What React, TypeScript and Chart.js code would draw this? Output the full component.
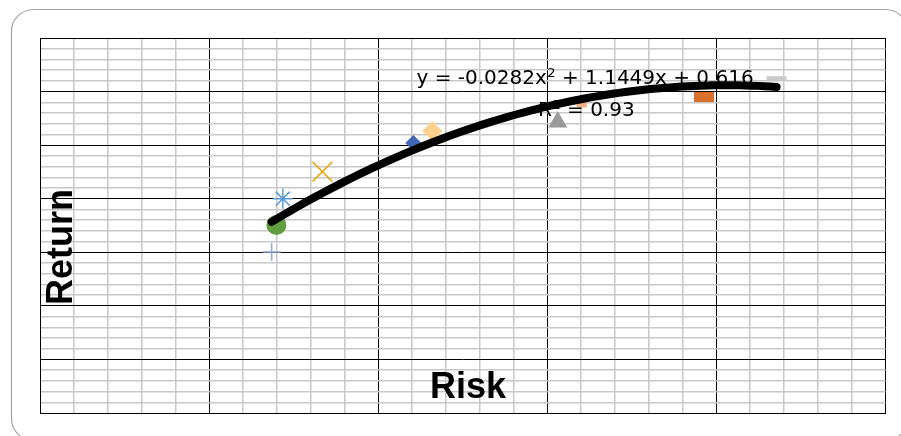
import React, { useEffect, useRef } from "react";
import { Chart, registerables } from "chart.js";

Chart.register(...registerables);

// ---- data ----
const seriesNames = ["A", "B", "C", "D", "E", "F", "G", "H", "I", "J"];
const riskValues = [6.85, 6.99, 7.18, 8.35, 11.04, 11.6, 15.31, 16.02, 19.62, 21.78];
const returnValues = [6.01, 7.02, 8.0, 9.01, 10.08, 10.53, 10.86, 11.5, 11.8, 12.5];
const trendCoefficients = [-0.0282, 1.1449, 0.616]; // a x^2 + b x + c
const equationPre = "y = -0.0282x";
const equationSup = "2";
const equationPost = " + 1.1449x + 0.616";
const rSquaredLabel = ["R", "2", " = 0.93"];
const xAxisTitle = "Risk";
const yAxisTitle = "Return";
const xRange = [0, 25];
const yRange = [0, 14];

// ---- styles ----
const markerColors = [
  "#8faadc",
  "#629d3f",
  "#5b9bd5",
  "#e8a200",
  "#3f68b5",
  "#ffd18c",
  "#9a9a9a",
  "#f4b183",
  "#d9702c",
  "#c9c9c9",
];

function makeRectImage(w: number, h: number, color: string) {
  const c = document.createElement("canvas");
  c.width = w;
  c.height = h;
  const cx = c.getContext("2d")!;
  cx.fillStyle = color;
  cx.fillRect(0, 0, w, h);
  return c;
}

export default function App() {
  const ref = useRef<HTMLCanvasElement>(null);

  useEffect(() => {
    if (!ref.current) return;

    const markerStyles: any[] = [
      { pointStyle: "cross", radius: 9, border: 1.5, fill: false },
      { pointStyle: "circle", radius: 10, border: 0, fill: true },
      { pointStyle: "star", radius: 10, border: 1.5, fill: false },
      { pointStyle: "crossRot", radius: 14, border: 1.5, fill: false },
      { pointStyle: "rectRot", radius: 8, border: 0, fill: true },
      { pointStyle: "rectRot", radius: 10, border: 0, fill: true },
      { pointStyle: "triangle", radius: 11, border: 0, fill: true },
      { pointStyle: "line", radius: 5, border: 5, fill: false },
      { pointStyle: makeRectImage(20, 10, markerColors[8]), radius: 10, border: 0, fill: true },
      { pointStyle: "line", radius: 10, border: 4, fill: false },
    ];

    const xMin = Math.min(...riskValues);
    const xMax = Math.max(...riskValues);
    const trendPts: { x: number; y: number }[] = [];
    const steps = 80;
    for (let i = 0; i <= steps; i++) {
      const x = xMin + ((xMax - xMin) * i) / steps;
      const [a, b, c] = trendCoefficients;
      trendPts.push({ x, y: a * x * x + b * x + c });
    }

    const datasets: any[] = [
      {
        label: "trend",
        data: trendPts,
        showLine: true,
        borderColor: "#000",
        borderWidth: 8,
        borderCapStyle: "round",
        borderJoinStyle: "round",
        pointRadius: 0,
        fill: false,
      },
    ];
    seriesNames.forEach((name, i) => {
      const st = markerStyles[i];
      datasets.push({
        label: name,
        data: [{ x: riskValues[i], y: returnValues[i] }],
        pointStyle: st.pointStyle,
        pointRadius: st.radius,
        pointBorderWidth: st.border,
        pointBorderColor: markerColors[i],
        pointBackgroundColor: st.fill ? markerColors[i] : "transparent",
        showLine: false,
      });
    });

    const MAJOR = "#000000";
    const MINOR = "#c8c8c8";

    const decor = {
      id: "decor",
      beforeDraw(chart: any) {
        const ctx = chart.ctx as CanvasRenderingContext2D;
        ctx.save();
        ctx.fillStyle = "#ffffff";
        ctx.fillRect(0, 0, chart.width, chart.height);
        ctx.strokeStyle = "#a3a3a3";
        ctx.lineWidth = 1.2;
        ctx.beginPath();
        (ctx as any).roundRect(11.5, 9.5, 896, 431, 22);
        ctx.stroke();
        ctx.restore();
      },
      afterDraw(chart: any) {
        const ctx = chart.ctx as CanvasRenderingContext2D;
        ctx.save();
        ctx.fillStyle = "#000";
        ctx.textBaseline = "alphabetic";
        ctx.textAlign = "left";
        // equation
        ctx.font = "20px 'DejaVu Sans'";
        let x = 416.5;
        const base = 83.5;
        ctx.fillText(equationPre, x, base);
        x += ctx.measureText(equationPre).width;
        ctx.font = "13px 'DejaVu Sans'";
        ctx.fillText(equationSup, x + 0.5, base - 6.5);
        x += ctx.measureText(equationSup).width + 0.5;
        ctx.font = "20px 'DejaVu Sans'";
        ctx.fillText(equationPost, x, base);
        // R^2
        let rx = 538;
        const rb = 115.5;
        ctx.fillText(rSquaredLabel[0], rx, rb);
        rx += ctx.measureText(rSquaredLabel[0]).width;
        ctx.font = "13px 'DejaVu Sans'";
        ctx.fillText(rSquaredLabel[1], rx + 0.5, rb - 6.5);
        rx += ctx.measureText(rSquaredLabel[1]).width + 0.5;
        ctx.font = "20px 'DejaVu Sans'";
        ctx.fillText(rSquaredLabel[2], rx, rb);
        // axis titles
        ctx.font = "bold 36px 'Liberation Sans'";
        ctx.fillText(xAxisTitle, 430, 397.5);
        ctx.translate(71.5, 305);
        ctx.rotate(-Math.PI / 2);
        ctx.fillText(yAxisTitle, 0, 0);
        ctx.restore();
      },
    };

    const chart = new Chart(ref.current, {
      type: "scatter",
      data: { datasets },
      options: {
        animation: false,
        responsive: true,
        maintainAspectRatio: false,
        events: [],
        layout: { padding: { left: 40, top: 38, right: 15, bottom: 23 } },
        plugins: {
          legend: { display: false },
          tooltip: { enabled: false },
          title: { display: false },
        },
        scales: {
          x: {
            type: "linear",
            min: xRange[0],
            max: xRange[1],
            ticks: { display: false, stepSize: 1, autoSkip: false, maxTicksLimit: 1000 },
            grid: {
              drawTicks: false,
              color: (c: any) => (c.index % 5 === 0 ? MAJOR : MINOR),
              lineWidth: (c: any) => (c.index % 5 === 0 ? 1 : 1.5),
            },
            border: { display: true, color: MAJOR, width: 1 },
          },
          y: {
            type: "linear",
            min: yRange[0],
            max: yRange[1],
            ticks: { display: false, stepSize: 0.4, autoSkip: false, maxTicksLimit: 1000 },
            grid: {
              drawTicks: false,
              color: (c: any) => (c.index % 5 === 0 ? MAJOR : MINOR),
              lineWidth: (c: any) => (c.index % 5 === 0 ? 1 : 1.5),
            },
            border: { display: true, color: MAJOR, width: 1 },
          },
        },
      },
      plugins: [decor],
    });

    return () => chart.destroy();
  }, []);

  return (
    <div style={{ position: "fixed", left: 0, top: 0, width: 901, height: 436 }}>
      <canvas ref={ref} />
    </div>
  );
}
